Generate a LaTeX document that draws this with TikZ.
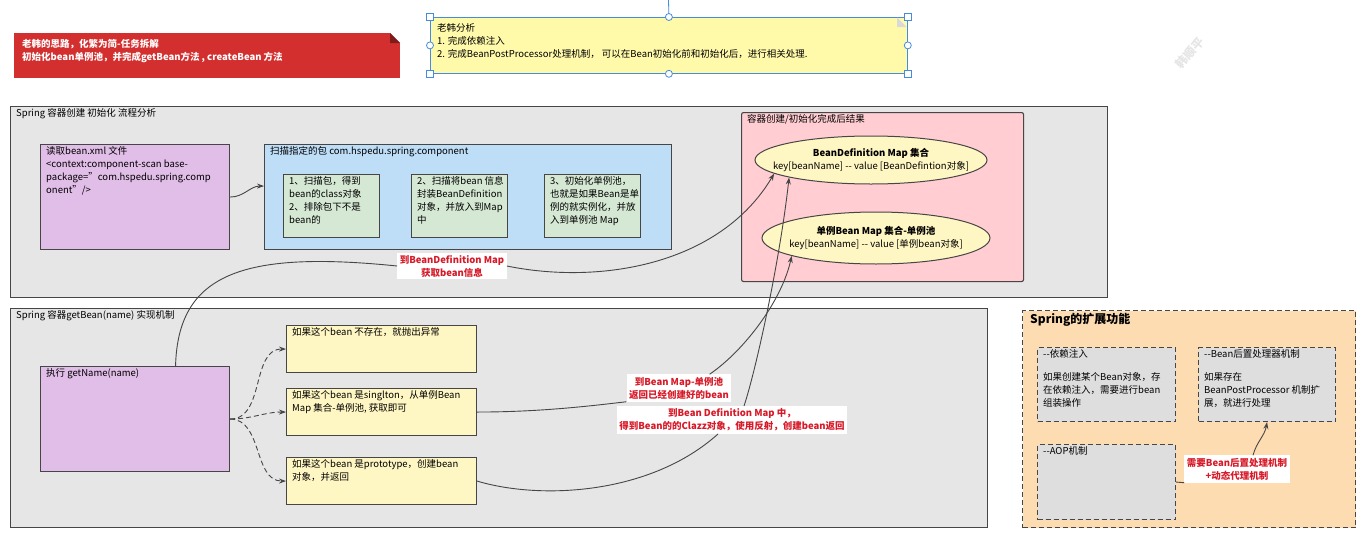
\documentclass[tikz,border=0pt]{standalone}
\usepackage{fontspec}
\setmainfont{Noto Sans CJK SC}
\usetikzlibrary{shapes.geometric}
\usetikzlibrary{positioning}
\usetikzlibrary{arrows.meta}
\definecolor{panelgray}{RGB}{230,230,230}
\definecolor{linedark}{RGB}{70,70,70}
\definecolor{xmlpurple}{RGB}{225,190,231}
\definecolor{scanblue}{RGB}{190,222,248}
\definecolor{stepgreen}{RGB}{213,232,212}
\definecolor{resultpink}{RGB}{255,205,210}
\definecolor{mapyellow}{RGB}{255,247,195}
\definecolor{noteyellow}{RGB}{255,250,170}
\definecolor{bannerred}{RGB}{211,47,47}
\definecolor{extorange}{RGB}{253,220,178}
\definecolor{subgray}{RGB}{222,222,222}
\definecolor{labred}{RGB}{215,25,40}
\definecolor{handleblue}{RGB}{70,140,220}
\newcommand\boxfont{\fontsize{9.5}{13}\selectfont}
\tikzset{
    panel/.style = {rectangle, draw=linedark, line width=1.3pt, fill=panelgray, anchor=north west},
    boxp/.style = {rectangle, draw=linedark, line width=1.1pt, fill=xmlpurple, anchor=north west},
    boxb/.style = {rectangle, draw=linedark, line width=1.1pt, fill=scanblue, anchor=north west},
    boxg/.style = {rectangle, draw=linedark, line width=1.1pt, fill=stepgreen, anchor=north west, minimum width=96pt, minimum height=63pt},
    boxy/.style = {rectangle, draw=linedark, line width=1.1pt, fill=mapyellow, anchor=north west, minimum width=190pt, minimum height=47pt},
    boxr/.style = {rectangle, rounded corners=2pt, draw=linedark, line width=1.1pt, fill=resultpink, anchor=north west},
    mapell/.style = {ellipse, draw=linedark, line width=1pt, fill=mapyellow, inner sep=0pt},
    boxo/.style = {rectangle, draw=linedark, line width=1.1pt, dash pattern=on 5pt off 3pt, fill=extorange, anchor=north west},
    boxs/.style = {rectangle, draw=linedark, line width=1.1pt, dash pattern=on 5pt off 3pt, fill=subgray, anchor=north west},
    banner/.style = {rectangle, fill=bannerred, anchor=north west},
    notebox/.style = {rectangle, draw=handleblue, line width=0.8pt, fill=noteyellow, anchor=north west},
    hsq/.style = {rectangle, draw=handleblue, line width=0.8pt, fill=white, minimum size=7pt, inner sep=0pt},
    hci/.style = {circle, draw=handleblue, line width=0.8pt, fill=white, minimum size=7pt, inner sep=0pt},
    boxtext/.style = {anchor=north west, align=left, inner sep=0pt, xshift=6pt, yshift=-2.5pt, font=\boxfont},
    elltext/.style = {align=center, inner sep=0pt, font=\boxfont},
    topleft/.style = {label={[boxtext]north west:{#1}}},
    redlab/.style = {rectangle, fill=white, text=labred, align=center, inner sep=2.5pt, font=\boxfont\bfseries},
    conn/.style = {-{Stealth[length=7pt,width=5pt]}, line width=0.9pt, draw=linedark},
    dconn/.style = {conn, dash pattern=on 5pt off 3pt}
}
\begin{document}
\begin{tikzpicture}[x=1pt, y=-1pt]
\path[use as bounding box, fill=white] (0,0) rectangle (1361,541);
%
\node[rotate=50, text=black!10, font=\fontsize{12}{12}\selectfont\bfseries] at (1190,53) (wm) {韩顺平};
%
\node[banner, minimum width=386pt, minimum height=45pt, label={[boxtext, text=white, font=\boxfont\bfseries, xshift=2pt, yshift=-3.5pt]north west:{老韩的思路，化繁为简-任务拆解\\初始化bean单例池，并完成getBean方法 , createBean 方法}}] at (14,33) (banner) {};
\fill[white] (390,33) -- (400,33) -- (400,43) -- cycle;
\fill[bannerred!60!black] (390,33) -- (390,43) -- (400,43) -- cycle;
%
\node[notebox, minimum width=477pt, minimum height=56pt, label={[boxtext, xshift=1pt, yshift=-4pt]north west:{老韩分析\\1. 完成依赖注入\\2. 完成BeanPostProcessor处理机制， 可以在Bean初始化前和初始化后，进行相关处理.}}] at (430,17) (note) {};
\fill[black!15] (897,17.5) -- (897,27) -- (906.5,27) -- cycle;
\draw[handleblue, line width=0.8pt] (note.north) -- (668.5,0);
\node[hsq] at (note.north west) (hnw) {};
\node[hsq] at (note.north east) (hne) {};
\node[hsq] at (note.south west) (hsw) {};
\node[hsq] at (note.south east) (hse) {};
\node[hci] at (note.north) (hn) {};
\node[hci] at (note.south) (hs) {};
\node[hci] at (note.west) (hw) {};
\node[hci] at (note.east) (he) {};
%
% container init
\node[panel, minimum width=1097pt, minimum height=191pt, topleft={Spring 容器创建 初始化 流程分析}] at (10,106) (init) {};
\node[boxp, minimum width=189pt, minimum height=105pt, topleft={读取bean.xml 文件\\<context:component-scan base-\\package="com.hspedu.spring.comp\\onent"/>}] at (40,144) (xml) {};
\node[boxb, minimum width=407pt, minimum height=105pt, topleft={扫描指定的包 com.hspedu.spring.component}] at (264,144) (scan) {};
\node[boxg, topleft={1、扫描包，得到\\bean的class对象\\2、排除包下不是\\bean的}] at (283,174) (scanone) {};
\node[boxg, topleft={2、扫描将bean 信息\\封装BeanDefinition\\对象，并放入到Map\\中}] at (411,174) (scantwo) {};
\node[boxg, topleft={3、初始化单例池，\\也就是如果Bean是单\\例的就实例化，并放\\入到单例池 Map}] at (544,174) (scanthree) {};
\node[boxr, minimum width=282pt, minimum height=169pt, topleft={容器创建/初始化完成后结果}] at (741,112) (result) {};
\node[mapell, minimum width=232pt, minimum height=48pt, label={[elltext]center:{\bfseries BeanDefinition Map 集合\\key[beanName] -{}- value [BeanDefintion对象]}}] at (871,160) (bdmap) {};
\node[mapell, minimum width=228pt, minimum height=52pt, label={[elltext]center:{\bfseries 单例Bean Map 集合-单例池\\key[beanName] -{}- value [单例bean对象]}}] at (876,238) (sgmap) {};
%
% getBean
\node[panel, minimum width=977pt, minimum height=219pt, topleft={Spring 容器getBean(name) 实现机制}] at (10,308) (getbean) {};
\node[boxp, minimum width=189pt, minimum height=105pt, topleft={执行 getName(name)}] at (40,366) (getn) {};
\node[boxy, topleft={如果这个bean 不存在，就抛出异常}] at (286,325) (nobean) {};
\node[boxy, topleft={如果这个bean 是singlton，从单例Bean\\Map 集合-单例池, 获取即可}] at (286,388) (single) {};
\node[boxy, topleft={如果这个bean 是prototype，创建bean\\对象，并返回}] at (286,457) (proto) {};
%
% extension
\node[boxo, minimum width=333pt, minimum height=217pt, label={[boxtext, font=\fontsize{12}{14}\selectfont\bfseries, xshift=2pt, yshift=-0.5pt]north west:{Spring的扩展功能}}] at (1022,310) (ext) {};
\node[boxs, minimum width=138pt, minimum height=74pt, topleft={-{}-依赖注入\\[10pt]如果创建某个Bean对象，存\\在依赖注入，需要进行bean\\组装操作}] at (1037,347) (di) {};
\node[boxs, minimum width=137pt, minimum height=74pt, topleft={-{}-Bean后置处理器机制\\[10pt]如果存在\\BeanPostProcessor 机制扩\\展，就进行处理}] at (1198,347) (bpp) {};
\node[boxs, minimum width=138pt, minimum height=75pt, topleft={-{}-AOP机制}] at (1037,444) (aop) {};
%
% labels
\node[redlab] at (452,266) (bdlab) {到BeanDefinition Map\\获取bean信息};
\node[redlab] at (679,388) (sglab) {到Bean Map-单例池\\返回已经创建好的bean};
\node[redlab] at (732,420) (protolab) {到Bean Definition Map 中，\\得到Bean的的Clazz对象，使用反射，创建bean返回};
\node[redlab] at (1237,469) (needlab) {需要Bean后置处理机制\\+动态代理机制};
%
\draw[conn] (xml.east) to[out=0, in=180] ([yshift=11pt]scan.west);
\draw[dconn] (getn.east) to[out=0, in=180] (nobean.west);
\draw[dconn] (getn.east) to[out=0, in=180] (single.west);
\draw[dconn] (getn.east) to[out=0, in=180] (proto.west);
\draw[conn] ([xshift=40.5pt]getn.north) .. controls (178,275) and (240,250) .. (bdlab.west)
    (bdlab.east) .. controls (600,285) and (720,265) .. (bdmap.188);
\draw[conn] (single.east) .. controls (540,412) and (590,406) .. (sglab.south west)
    ([xshift=-22pt]sglab.north east) .. controls (745,350) and (782,300) .. (sgmap.192);
\draw[conn] (proto.east) .. controls (540,500) and (650,495) .. ([xshift=-14pt]protolab.south)
    ([xshift=12pt]protolab.north) .. controls (756,370) and (780,260) .. (bdmap.192);
\draw[line width=0.9pt, draw=linedark] (aop.east) -- (needlab.south west);
\draw[conn] ([xshift=16pt]needlab.north) to[out=75, in=-100] (bpp.south);
\end{tikzpicture}
\end{document}
